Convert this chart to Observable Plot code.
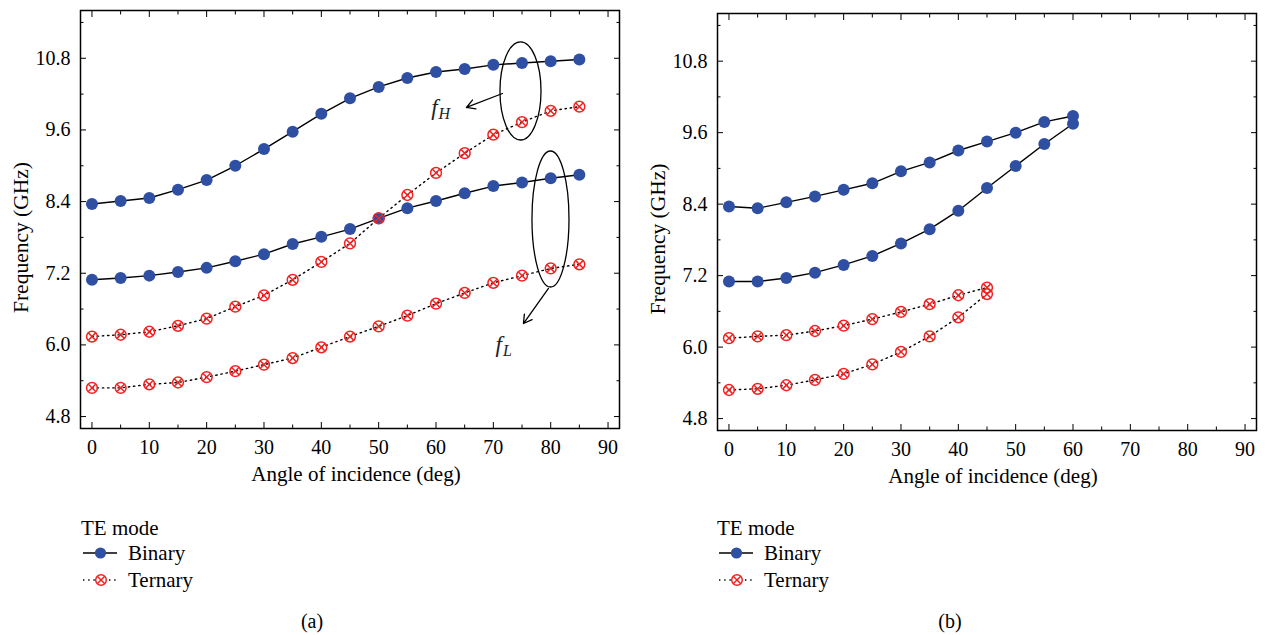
<!DOCTYPE html>
<html>
<head>
<meta charset="utf-8">
<script src="https://cdn.jsdelivr.net/npm/d3@7"></script>
<script src="https://cdn.jsdelivr.net/npm/@observablehq/plot@0.6"></script>
<style>
  body { margin: 0; background: #fff; }
  #wrap { position: relative; width: 1274px; height: 635px; overflow: hidden;
          font-family: "Liberation Serif", "Times New Roman", serif; color: #000; }
  #wrap svg, #wrap svg text, #wrap svg tspan { font-family: "Liberation Serif", "Times New Roman", serif !important; }
  .abs { position: absolute; }
</style>
</head>
<body>
<div id="wrap"></div>
<script>
// ---------- data ----------
const anglesA = [0,5,10,15,20,25,30,35,40,45,50,55,60,65,70,75,80,85];
const aBinaryHigh  = [8.36,8.41,8.46,8.60,8.76,9.00,9.28,9.57,9.87,10.13,10.32,10.47,10.57,10.62,10.69,10.72,10.75,10.78];
const aBinaryLow   = [7.09,7.12,7.16,7.22,7.29,7.40,7.52,7.69,7.81,7.94,8.12,8.29,8.41,8.54,8.66,8.72,8.79,8.85];
const aTernaryHigh = [6.14,6.17,6.22,6.32,6.44,6.64,6.83,7.09,7.39,7.70,8.12,8.51,8.88,9.21,9.52,9.73,9.92,9.99];
const aTernaryLow  = [5.28,5.28,5.34,5.37,5.46,5.56,5.67,5.78,5.96,6.14,6.31,6.49,6.69,6.87,7.04,7.16,7.28,7.35];

const anglesBBinary = [0,5,10,15,20,25,30,35,40,45,50,55,60];
const bBinaryHigh  = [8.36,8.33,8.43,8.53,8.64,8.75,8.95,9.10,9.30,9.45,9.60,9.78,9.88];
const bBinaryLow   = [7.10,7.10,7.16,7.25,7.38,7.53,7.74,7.98,8.29,8.67,9.04,9.41,9.75];
const anglesBTernary = [0,5,10,15,20,25,30,35,40,45];
const bTernaryHigh = [6.15,6.18,6.20,6.27,6.36,6.47,6.59,6.72,6.87,7.00];
const bTernaryLow  = [5.28,5.30,5.36,5.45,5.55,5.71,5.92,6.18,6.50,6.89];

const xMajorTicks = [0,10,20,30,40,50,60,70,80,90];
const xMinorTicks = [5,15,25,35,45,55,65,75,85];
const yMajorTicks = [4.8,6.0,7.2,8.4,9.6,10.8];
const yMinorTicks = [5.4,6.6,7.8,9.0,10.2,11.4];
const xDomain = [-2, 92];
const yDomain = [4.6, 11.6];

const seriesNames = ["Binary", "Ternary"];
const legendTitle = "TE mode";
const xLabel = "Angle of incidence (deg)";
const yLabel = "Frequency (GHz)";
const panelLabels = ["(a)", "(b)"];

// annotations of panel (a), in data units
const ellipses = [
  {cx: 74.82, cy: 10.244, rx: 3.58, ry: 0.821},
  {cx: 80.05, cy: 8.100,  rx: 3.23, ry: 1.139}
];
const arrows = [
  {x1: 71.59, y1: 10.21, x2: 65.31, y2: 9.976},
  {x1: 79.61, y1: 6.945, x2: 75.25, y2: 6.358}
];
const modeLabels = [
  {x: 60.9, y: 9.842, main: "f", sub: "H"},
  {x: 71.9, y: 5.881, main: "f", sub: "L"}
];

// ---------- helpers ----------
const BLUE = "#2f4fa3";
const RED = "#f22222";
const FONT = '"Liberation Serif", "Times New Roman", serif';
const NS = "http://www.w3.org/2000/svg";

function rows(angles, values, series, group) {
  return angles.map((a, i) => ({x: a, y: values[i], s: series, g: group}));
}

function ellipseMark(list) {
  return (index, scales) => {
    const g = document.createElementNS(NS, "g");
    for (const e of list) {
      const el = document.createElementNS(NS, "ellipse");
      const cx = scales.x(e.cx), cy = scales.y(e.cy);
      el.setAttribute("cx", cx);
      el.setAttribute("cy", cy);
      el.setAttribute("rx", Math.abs(scales.x(e.cx + e.rx) - cx));
      el.setAttribute("ry", Math.abs(scales.y(e.cy + e.ry) - cy));
      el.setAttribute("fill", "none");
      el.setAttribute("stroke", "#000");
      el.setAttribute("stroke-width", 1.3);
      g.appendChild(el);
    }
    return g;
  };
}

function subLabelMark(list) {
  return (index, scales) => {
    const g = document.createElementNS(NS, "g");
    for (const t of list) {
      const el = document.createElementNS(NS, "text");
      el.setAttribute("x", scales.x(t.x));
      el.setAttribute("y", scales.y(t.y));
      el.setAttribute("font-family", FONT);
      el.setAttribute("font-style", "italic");
      el.setAttribute("fill", "#222");
      const a = document.createElementNS(NS, "tspan");
      a.setAttribute("font-size", "23px");
      a.textContent = t.main;
      const b = document.createElementNS(NS, "tspan");
      b.setAttribute("font-size", "16px");
      b.setAttribute("dy", "4.5");
      b.setAttribute("dx", "1");
      b.textContent = t.sub;
      el.appendChild(a); el.appendChild(b);
      g.appendChild(el);
    }
    return g;
  };
}

function axisMarks() {
  const t = {fontFamily: FONT, fontSize: 20};
  return [
    Plot.axisX({anchor: "bottom", ticks: xMajorTicks, tickSize: -6, tickPadding: 17, label: null, ...t}),
    Plot.axisX({anchor: "bottom", ticks: xMinorTicks, tickSize: -3.5, tickFormat: () => "", label: null}),
    Plot.axisX({anchor: "top", ticks: xMajorTicks, tickSize: -6, tickFormat: () => "", label: null}),
    Plot.axisX({anchor: "top", ticks: xMinorTicks, tickSize: -3.5, tickFormat: () => "", label: null}),
    Plot.axisY({anchor: "left", ticks: yMajorTicks, tickSize: -6, tickPadding: 16, tickFormat: d => d.toFixed(1), label: null, ...t}),
    Plot.axisY({anchor: "left", ticks: yMinorTicks, tickSize: -3.5, tickFormat: () => "", label: null}),
    Plot.axisY({anchor: "right", ticks: yMajorTicks, tickSize: -6, tickFormat: () => "", label: null}),
    Plot.axisY({anchor: "right", ticks: yMinorTicks, tickSize: -3.5, tickFormat: () => "", label: null})
  ];
}

function seriesMarks(binary, ternary) {
  return [
    Plot.line(ternary, {x: "x", y: "y", z: "g", stroke: "#000", strokeWidth: 1.4, strokeDasharray: "1.4,3.8"}),
    Plot.line(binary, {x: "x", y: "y", z: "g", stroke: "#000", strokeWidth: 1.4}),
    Plot.dot(binary, {x: "x", y: "y", r: 6, fill: BLUE, stroke: null}),
    Plot.dot(ternary, {x: "x", y: "y", r: 5.4, fill: "none", stroke: RED, strokeWidth: 1.5}),
    Plot.dot(ternary, {x: "x", y: "y", r: 3.4, symbol: "times", stroke: RED, strokeWidth: 1.5})
  ];
}

function panel(binary, ternary, marginTop, marginBottom, extra, yLabelDy) {
  return Plot.plot({
    width: 637,
    height: 500,
    marginLeft: 80,
    marginRight: 18,
    marginTop,
    marginBottom,
    style: `font-family: ${FONT}; font-size: 20px; color: #000; background: transparent; overflow: visible;`,
    x: {domain: xDomain, axis: null},
    y: {domain: yDomain, axis: null},
    marks: [
      ...axisMarks(),
      Plot.frame({stroke: "#000", strokeWidth: 1.5}),
      ...seriesMarks(binary, ternary),
      ...extra,
      Plot.text([xLabel], {frameAnchor: "bottom", text: d => d, dy: 46, dx: 6, fontSize: 21, fontFamily: FONT, lineAnchor: "middle", textAnchor: "middle"}),
      Plot.text([yLabel], {frameAnchor: "left", text: d => d, rotate: -90, dx: -59, dy: yLabelDy, fontSize: 21.5, fontFamily: FONT, lineAnchor: "middle", textAnchor: "middle"})
    ]
  });
}

// ---------- build ----------
const wrap = document.getElementById("wrap");

const binA = [...rows(anglesA, aBinaryHigh, "Binary", "H"), ...rows(anglesA, aBinaryLow, "Binary", "L")];
const terA = [...rows(anglesA, aTernaryHigh, "Ternary", "H"), ...rows(anglesA, aTernaryLow, "Ternary", "L")];
const binB = [...rows(anglesBBinary, bBinaryHigh, "Binary", "H"), ...rows(anglesBBinary, bBinaryLow, "Binary", "L")];
const terB = [...rows(anglesBTernary, bTernaryHigh, "Ternary", "H"), ...rows(anglesBTernary, bTernaryLow, "Ternary", "L")];

const extraA = [
  ellipseMark(ellipses),
  Plot.arrow(arrows, {x1: "x1", y1: "y1", x2: "x2", y2: "y2", bend: 0, headLength: 11, headAngle: 60, stroke: "#000", strokeWidth: 1.3}),
  subLabelMark(modeLabels)
];

const svgA = panel(binA, terA, 10, 72, extraA, 18);
svgA.classList.add("abs");
svgA.style.left = "0px"; svgA.style.top = "0px";
wrap.appendChild(svgA);

const svgB = panel(binB, terB, 13, 70, [], 17);
svgB.classList.add("abs");
svgB.style.left = "637px"; svgB.style.top = "0px";
wrap.appendChild(svgB);

// ---------- legends and panel labels ----------
function legend(left, top) {
  const svg = d3.create("svg")
    .attr("width", 300).attr("height", 90)
    .style("position", "absolute").style("left", left + "px").style("top", top + "px")
    .style("font-family", FONT);
  svg.append("text").attr("x", 1).attr("y", 21).attr("font-size", 21).text(legendTitle);
  // Binary row
  const rb = 39;
  svg.append("line").attr("x1", 3).attr("x2", 37).attr("y1", rb).attr("y2", rb).attr("stroke", "#000").attr("stroke-width", 1.4);
  svg.append("circle").attr("cx", 20.5).attr("cy", rb).attr("r", 5.6).attr("fill", BLUE);
  svg.append("text").attr("x", 48).attr("y", rb + 7).attr("font-size", 21).text(seriesNames[0]);
  // Ternary row
  const rt = 66;
  svg.append("line").attr("x1", 3).attr("x2", 37).attr("y1", rt).attr("y2", rt).attr("stroke", "#000").attr("stroke-width", 1.4).attr("stroke-dasharray", "1.4,3.8");
  svg.append("circle").attr("cx", 21).attr("cy", rt).attr("r", 5.3).attr("fill", "#fff").attr("stroke", RED).attr("stroke-width", 1.5);
  svg.append("path").attr("d", d3.symbol(d3.symbolTimes, 38)()).attr("transform", `translate(21,${rt})`).attr("stroke", RED).attr("stroke-width", 1.5).attr("fill", "none");
  svg.append("text").attr("x", 48).attr("y", rt + 7).attr("font-size", 21).text(seriesNames[1]);
  return svg.node();
}
wrap.appendChild(legend(80, 514));
wrap.appendChild(legend(716, 514));

function panelLabel(text, cx) {
  const d = document.createElement("div");
  d.className = "abs";
  d.style.left = (cx - 30) + "px";
  d.style.width = "60px";
  d.style.textAlign = "center";
  d.style.top = "608px";
  d.style.fontSize = "20px";
  d.style.lineHeight = "26px";
  d.textContent = text;
  return d;
}
wrap.appendChild(panelLabel(panelLabels[0], 312));
wrap.appendChild(panelLabel(panelLabels[1], 950));
</script>
</body>
</html>
